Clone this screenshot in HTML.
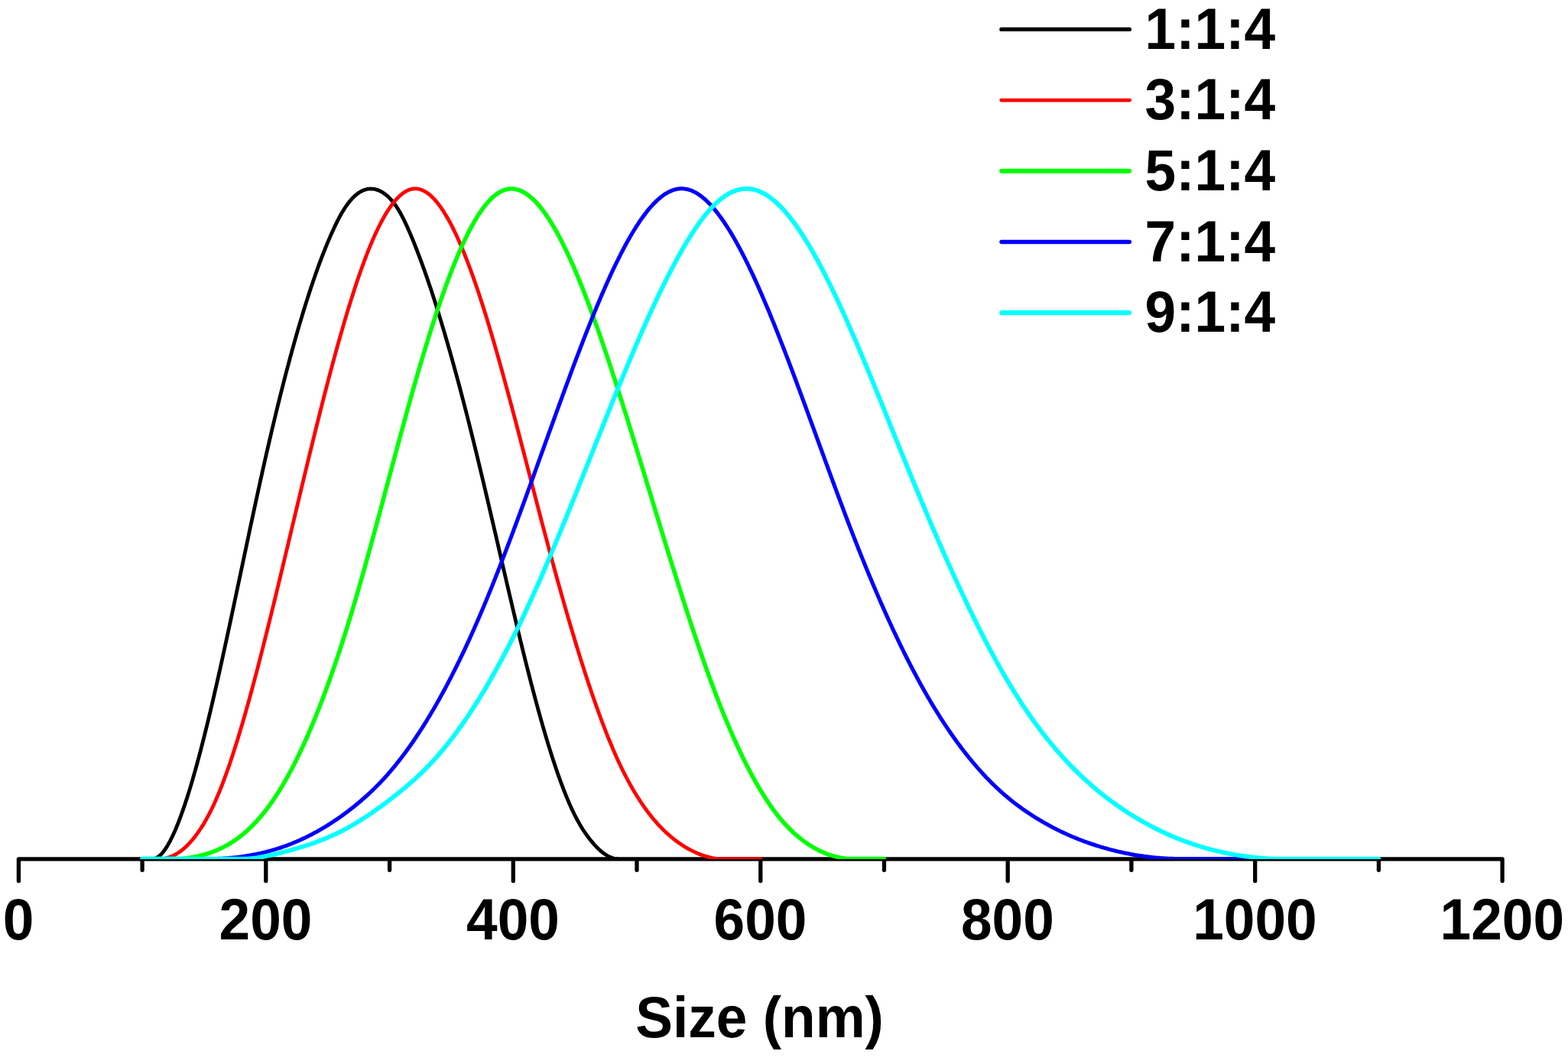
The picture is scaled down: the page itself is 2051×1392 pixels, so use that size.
<!DOCTYPE html>
<html lang="en">
<head>
<meta charset="utf-8">
<title>Size distribution</title>
<style>
html,body{margin:0;padding:0;background:#fff;}
body{width:2051px;height:1392px;overflow:hidden;}
svg{display:block;}
text{font-family:"Liberation Sans","Arial",sans-serif;font-weight:bold;font-size:76.5px;fill:#000;}
</style>
</head>
<body>
<svg width="2051" height="1392" viewBox="0 0 2051 1392">
<rect width="2051" height="1392" fill="#fff"/>
<g id="axis">
<path d="M24.4,1123.9 H1965.1 M24.4,1123.9 V1152.55 M186.1,1123.9 V1138.35 M347.8,1123.9 V1152.55 M509.6,1123.9 V1138.35 M671.3,1123.9 V1152.55 M833.0,1123.9 V1138.35 M994.8,1123.9 V1152.55 M1156.5,1123.9 V1138.35 M1318.2,1123.9 V1152.55 M1479.9,1123.9 V1138.35 M1641.7,1123.9 V1152.55 M1803.4,1123.9 V1138.35 M1965.1,1123.9 V1152.55" stroke="#000" stroke-width="5.3" stroke-linecap="round" stroke-linejoin="round" fill="none"/>
</g>
<clipPath id="plotclip"><rect x="0" y="0" width="2051" height="1124.1"/></clipPath>
<g id="curves" fill="none" stroke-linecap="round" stroke-linejoin="round" clip-path="url(#plotclip)">
<path d="M186.1,1123.6 L200.0,1123.6 L201.5,1123.4 L203.0,1123.0 L204.5,1122.4 L206.0,1121.6 L207.5,1120.5 L209.0,1119.3 L210.5,1117.9 L212.0,1116.3 L213.5,1114.5 L215.0,1112.6 L216.5,1110.4 L218.0,1108.1 L219.5,1105.7 L221.0,1103.0 L222.5,1100.3 L224.0,1097.3 L225.5,1094.2 L227.0,1091.0 L228.5,1087.7 L230.0,1084.2 L231.5,1080.5 L233.0,1076.8 L234.5,1072.9 L236.0,1068.9 L237.5,1064.8 L239.0,1060.6 L240.5,1056.3 L242.0,1051.9 L243.5,1047.3 L245.0,1042.7 L246.5,1037.9 L248.0,1033.1 L249.5,1028.1 L251.0,1023.1 L252.5,1017.9 L254.0,1012.7 L255.5,1007.4 L257.0,1002.0 L258.5,996.5 L260.0,990.9 L261.5,985.3 L263.0,979.5 L264.5,973.7 L266.0,967.8 L267.5,961.9 L269.0,955.9 L270.5,949.8 L272.0,943.6 L273.5,937.4 L275.0,931.1 L276.5,924.8 L278.0,918.4 L279.5,911.9 L281.0,905.4 L282.5,898.8 L284.0,892.2 L285.5,885.6 L287.0,878.9 L288.5,872.2 L290.0,865.4 L291.5,858.6 L293.0,851.7 L294.5,844.8 L296.0,837.9 L297.5,831.0 L299.0,824.0 L300.5,817.0 L302.0,810.0 L303.5,803.0 L305.0,795.9 L306.5,788.9 L308.0,781.8 L309.5,774.7 L311.0,767.6 L312.5,760.5 L314.0,753.4 L315.5,746.3 L317.0,739.2 L318.5,732.1 L320.0,725.0 L321.5,717.9 L323.0,710.8 L324.5,703.7 L326.0,696.6 L327.5,689.6 L329.0,682.5 L330.5,675.5 L332.0,668.5 L333.5,661.6 L335.0,654.6 L336.5,647.7 L338.0,640.8 L339.5,634.0 L341.0,627.1 L342.5,620.4 L344.0,613.6 L345.5,606.9 L347.0,600.3 L348.5,593.6 L350.0,587.1 L351.5,580.6 L353.0,574.1 L354.5,567.7 L356.0,561.3 L357.5,555.0 L359.0,548.7 L360.5,542.5 L362.0,536.3 L363.5,530.1 L365.0,524.1 L366.5,518.0 L368.0,512.1 L369.5,506.1 L371.0,500.3 L372.5,494.4 L374.0,488.7 L375.5,482.9 L377.0,477.3 L378.5,471.7 L380.0,466.1 L381.5,460.6 L383.0,455.2 L384.5,449.8 L386.0,444.4 L387.5,439.1 L389.0,433.9 L390.5,428.7 L392.0,423.6 L393.5,418.6 L395.0,413.6 L396.5,408.6 L398.0,403.7 L399.5,398.9 L401.0,394.1 L402.5,389.4 L404.0,384.8 L405.5,380.2 L407.0,375.6 L408.5,371.2 L410.0,366.8 L411.5,362.4 L413.0,358.1 L414.5,353.9 L416.0,349.7 L417.5,345.6 L419.0,341.6 L420.5,337.6 L422.0,333.7 L423.5,329.8 L425.0,326.1 L426.5,322.3 L428.0,318.7 L429.5,315.1 L431.0,311.6 L432.5,308.1 L434.0,304.7 L435.5,301.4 L437.0,298.2 L438.5,295.0 L440.0,291.9 L441.5,288.9 L443.0,286.0 L444.5,283.2 L446.0,280.5 L447.5,277.9 L449.0,275.4 L450.5,273.0 L452.0,270.7 L453.5,268.6 L455.0,266.5 L456.5,264.6 L458.0,262.7 L459.5,261.0 L461.0,259.4 L462.5,257.8 L464.0,256.4 L465.5,255.1 L467.0,253.9 L468.5,252.8 L470.0,251.7 L471.5,250.8 L473.0,250.0 L474.5,249.3 L476.0,248.7 L477.5,248.2 L479.0,247.8 L480.5,247.4 L482.0,247.2 L483.5,247.1 L485.0,247.0 L486.5,247.1 L488.0,247.2 L489.5,247.4 L491.0,247.7 L492.5,248.1 L494.0,248.6 L495.5,249.2 L497.0,249.9 L498.5,250.7 L500.0,251.5 L501.5,252.4 L503.0,253.5 L504.5,254.6 L506.0,255.8 L507.5,257.1 L509.0,258.6 L510.5,260.1 L512.0,261.8 L513.5,263.5 L515.0,265.4 L516.5,267.4 L518.0,269.5 L519.5,271.8 L521.0,274.2 L522.5,276.7 L524.0,279.3 L525.5,282.1 L527.0,285.0 L528.5,288.0 L530.0,291.1 L531.5,294.3 L533.0,297.6 L534.5,300.9 L536.0,304.4 L537.5,307.9 L539.0,311.5 L540.5,315.2 L542.0,318.9 L543.5,322.7 L545.0,326.5 L546.5,330.4 L548.0,334.3 L549.5,338.3 L551.0,342.3 L552.5,346.4 L554.0,350.6 L555.5,354.8 L557.0,359.1 L558.5,363.4 L560.0,367.7 L561.5,372.2 L563.0,376.6 L564.5,381.1 L566.0,385.7 L567.5,390.3 L569.0,395.0 L570.5,399.7 L572.0,404.5 L573.5,409.3 L575.0,414.2 L576.5,419.1 L578.0,424.1 L579.5,429.1 L581.0,434.1 L582.5,439.2 L584.0,444.4 L585.5,449.5 L587.0,454.8 L588.5,460.0 L590.0,465.4 L591.5,470.7 L593.0,476.1 L594.5,481.6 L596.0,487.0 L597.5,492.6 L599.0,498.1 L600.5,503.7 L602.0,509.4 L603.5,515.1 L605.0,520.8 L606.5,526.5 L608.0,532.3 L609.5,538.2 L611.0,544.0 L612.5,550.0 L614.0,555.9 L615.5,561.9 L617.0,567.9 L618.5,573.9 L620.0,580.0 L621.5,586.1 L623.0,592.3 L624.5,598.4 L626.0,604.7 L627.5,610.9 L629.0,617.2 L630.5,623.5 L632.0,629.8 L633.5,636.1 L635.0,642.5 L636.5,648.9 L638.0,655.3 L639.5,661.7 L641.0,668.1 L642.5,674.6 L644.0,681.0 L645.5,687.5 L647.0,694.0 L648.5,700.4 L650.0,706.9 L651.5,713.4 L653.0,719.9 L654.5,726.4 L656.0,732.9 L657.5,739.3 L659.0,745.8 L660.5,752.3 L662.0,758.7 L663.5,765.2 L665.0,771.6 L666.5,778.0 L668.0,784.4 L669.5,790.8 L671.0,797.2 L672.5,803.5 L674.0,809.8 L675.5,816.1 L677.0,822.4 L678.5,828.6 L680.0,834.8 L681.5,841.0 L683.0,847.1 L684.5,853.2 L686.0,859.3 L687.5,865.3 L689.0,871.3 L690.5,877.2 L692.0,883.1 L693.5,889.0 L695.0,894.8 L696.5,900.5 L698.0,906.2 L699.5,911.9 L701.0,917.4 L702.5,923.0 L704.0,928.5 L705.5,933.9 L707.0,939.3 L708.5,944.6 L710.0,949.8 L711.5,955.0 L713.0,960.1 L714.5,965.2 L716.0,970.2 L717.5,975.1 L719.0,979.9 L720.5,984.7 L722.0,989.4 L723.5,994.1 L725.0,998.6 L726.5,1003.1 L728.0,1007.5 L729.5,1011.9 L731.0,1016.1 L732.5,1020.3 L734.0,1024.4 L735.5,1028.4 L737.0,1032.3 L738.5,1036.2 L740.0,1039.9 L741.5,1043.6 L743.0,1047.2 L744.5,1050.7 L746.0,1054.1 L747.5,1057.4 L749.0,1060.6 L750.5,1063.7 L752.0,1066.8 L753.5,1069.7 L755.0,1072.5 L756.5,1075.2 L758.0,1077.9 L759.5,1080.4 L761.0,1082.9 L762.5,1085.3 L764.0,1087.5 L765.5,1089.8 L767.0,1091.9 L768.5,1094.0 L770.0,1096.0 L771.5,1097.9 L773.0,1099.8 L774.5,1101.6 L776.0,1103.4 L777.5,1105.1 L779.0,1106.7 L780.5,1108.3 L782.0,1109.8 L783.5,1111.2 L785.0,1112.6 L786.5,1113.9 L788.0,1115.1 L789.5,1116.3 L791.0,1117.3 L792.5,1118.3 L794.0,1119.2 L795.5,1120.1 L797.0,1120.8 L798.5,1121.5 L800.0,1122.1 L801.5,1122.6 L803.0,1123.0 L804.5,1123.3 L806.0,1123.5 L808.0,1123.6" stroke="#000000" stroke-width="4.8"/>
<path d="M186.1,1123.6 L212.0,1123.6 L213.5,1123.4 L215.0,1123.2 L216.5,1122.9 L218.0,1122.5 L219.5,1122.1 L221.0,1121.7 L222.5,1121.1 L224.0,1120.6 L225.5,1119.9 L227.0,1119.2 L228.5,1118.4 L230.0,1117.6 L231.5,1116.7 L233.0,1115.8 L234.5,1114.8 L236.0,1113.7 L237.5,1112.6 L239.0,1111.4 L240.5,1110.1 L242.0,1108.8 L243.5,1107.4 L245.0,1106.0 L246.5,1104.4 L248.0,1102.9 L249.5,1101.2 L251.0,1099.5 L252.5,1097.7 L254.0,1095.8 L255.5,1093.9 L257.0,1091.9 L258.5,1089.9 L260.0,1087.7 L261.5,1085.5 L263.0,1083.2 L264.5,1080.9 L266.0,1078.4 L267.5,1075.9 L269.0,1073.4 L270.5,1070.7 L272.0,1067.9 L273.5,1065.1 L275.0,1062.2 L276.5,1059.2 L278.0,1056.1 L279.5,1052.9 L281.0,1049.7 L282.5,1046.3 L284.0,1042.8 L285.5,1039.3 L287.0,1035.6 L288.5,1031.9 L290.0,1028.1 L291.5,1024.2 L293.0,1020.2 L294.5,1016.2 L296.0,1012.1 L297.5,1007.8 L299.0,1003.6 L300.5,999.2 L302.0,994.8 L303.5,990.3 L305.0,985.7 L306.5,981.0 L308.0,976.3 L309.5,971.5 L311.0,966.7 L312.5,961.8 L314.0,956.8 L315.5,951.8 L317.0,946.7 L318.5,941.5 L320.0,936.3 L321.5,931.1 L323.0,925.7 L324.5,920.4 L326.0,915.0 L327.5,909.5 L329.0,904.0 L330.5,898.4 L332.0,892.8 L333.5,887.2 L335.0,881.5 L336.5,875.8 L338.0,870.0 L339.5,864.2 L341.0,858.4 L342.5,852.5 L344.0,846.6 L345.5,840.6 L347.0,834.7 L348.5,828.7 L350.0,822.7 L351.5,816.6 L353.0,810.5 L354.5,804.5 L356.0,798.3 L357.5,792.2 L359.0,786.1 L360.5,779.9 L362.0,773.7 L363.5,767.5 L365.0,761.3 L366.5,755.1 L368.0,748.8 L369.5,742.6 L371.0,736.3 L372.5,730.0 L374.0,723.8 L375.5,717.5 L377.0,711.2 L378.5,704.9 L380.0,698.6 L381.5,692.3 L383.0,686.0 L384.5,679.7 L386.0,673.4 L387.5,667.1 L389.0,660.9 L390.5,654.6 L392.0,648.3 L393.5,642.0 L395.0,635.8 L396.5,629.5 L398.0,623.3 L399.5,617.1 L401.0,610.9 L402.5,604.7 L404.0,598.5 L405.5,592.3 L407.0,586.2 L408.5,580.1 L410.0,574.0 L411.5,567.9 L413.0,561.8 L414.5,555.8 L416.0,549.8 L417.5,543.8 L419.0,537.8 L420.5,531.9 L422.0,526.0 L423.5,520.1 L425.0,514.3 L426.5,508.5 L428.0,502.7 L429.5,497.0 L431.0,491.3 L432.5,485.6 L434.0,480.0 L435.5,474.4 L437.0,468.9 L438.5,463.4 L440.0,457.9 L441.5,452.5 L443.0,447.1 L444.5,441.8 L446.0,436.5 L447.5,431.3 L449.0,426.1 L450.5,421.0 L452.0,415.9 L453.5,410.9 L455.0,405.9 L456.5,401.0 L458.0,396.2 L459.5,391.4 L461.0,386.7 L462.5,382.0 L464.0,377.4 L465.5,372.8 L467.0,368.3 L468.5,363.9 L470.0,359.5 L471.5,355.3 L473.0,351.0 L474.5,346.9 L476.0,342.8 L477.5,338.8 L479.0,334.9 L480.5,331.0 L482.0,327.2 L483.5,323.5 L485.0,319.9 L486.5,316.3 L488.0,312.8 L489.5,309.4 L491.0,306.1 L492.5,302.9 L494.0,299.7 L495.5,296.7 L497.0,293.7 L498.5,290.8 L500.0,288.0 L501.5,285.3 L503.0,282.6 L504.5,280.1 L506.0,277.6 L507.5,275.3 L509.0,273.0 L510.5,270.8 L512.0,268.7 L513.5,266.7 L515.0,264.8 L516.5,263.0 L518.0,261.2 L519.5,259.6 L521.0,258.1 L522.5,256.6 L524.0,255.3 L525.5,254.0 L527.0,252.9 L528.5,251.8 L530.0,250.9 L531.5,250.0 L533.0,249.2 L534.5,248.6 L536.0,248.0 L537.5,247.6 L539.0,247.2 L540.5,247.0 L542.0,246.9 L543.5,246.8 L545.0,246.9 L546.5,247.1 L548.0,247.3 L549.5,247.7 L551.0,248.2 L552.5,248.8 L554.0,249.5 L555.5,250.3 L557.0,251.2 L558.5,252.1 L560.0,253.2 L561.5,254.4 L563.0,255.6 L564.5,257.0 L566.0,258.5 L567.5,260.0 L569.0,261.7 L570.5,263.4 L572.0,265.2 L573.5,267.1 L575.0,269.1 L576.5,271.2 L578.0,273.4 L579.5,275.6 L581.0,278.0 L582.5,280.4 L584.0,282.9 L585.5,285.5 L587.0,288.1 L588.5,290.9 L590.0,293.7 L591.5,296.6 L593.0,299.6 L594.5,302.7 L596.0,305.8 L597.5,309.0 L599.0,312.3 L600.5,315.7 L602.0,319.1 L603.5,322.6 L605.0,326.2 L606.5,329.8 L608.0,333.5 L609.5,337.3 L611.0,341.1 L612.5,345.0 L614.0,349.0 L615.5,353.1 L617.0,357.2 L618.5,361.3 L620.0,365.6 L621.5,369.8 L623.0,374.2 L624.5,378.6 L626.0,383.1 L627.5,387.6 L629.0,392.2 L630.5,396.8 L632.0,401.5 L633.5,406.3 L635.0,411.0 L636.5,415.9 L638.0,420.8 L639.5,425.7 L641.0,430.7 L642.5,435.8 L644.0,440.9 L645.5,446.0 L647.0,451.1 L648.5,456.4 L650.0,461.6 L651.5,466.9 L653.0,472.2 L654.5,477.6 L656.0,482.9 L657.5,488.4 L659.0,493.8 L660.5,499.3 L662.0,504.8 L663.5,510.3 L665.0,515.9 L666.5,521.5 L668.0,527.1 L669.5,532.7 L671.0,538.3 L672.5,544.0 L674.0,549.7 L675.5,555.4 L677.0,561.1 L678.5,566.8 L680.0,572.6 L681.5,578.3 L683.0,584.1 L684.5,589.8 L686.0,595.6 L687.5,601.4 L689.0,607.2 L690.5,613.0 L692.0,618.7 L693.5,624.5 L695.0,630.3 L696.5,636.1 L698.0,641.9 L699.5,647.6 L701.0,653.4 L702.5,659.2 L704.0,664.9 L705.5,670.6 L707.0,676.4 L708.5,682.1 L710.0,687.8 L711.5,693.4 L713.0,699.1 L714.5,704.7 L716.0,710.4 L717.5,716.0 L719.0,721.5 L720.5,727.1 L722.0,732.6 L723.5,738.1 L725.0,743.6 L726.5,749.1 L728.0,754.5 L729.5,760.0 L731.0,765.4 L732.5,770.7 L734.0,776.1 L735.5,781.4 L737.0,786.6 L738.5,791.9 L740.0,797.1 L741.5,802.3 L743.0,807.5 L744.5,812.6 L746.0,817.7 L747.5,822.8 L749.0,827.8 L750.5,832.8 L752.0,837.8 L753.5,842.8 L755.0,847.7 L756.5,852.5 L758.0,857.4 L759.5,862.2 L761.0,866.9 L762.5,871.6 L764.0,876.3 L765.5,881.0 L767.0,885.6 L768.5,890.1 L770.0,894.7 L771.5,899.1 L773.0,903.6 L774.5,908.0 L776.0,912.3 L777.5,916.6 L779.0,920.9 L780.5,925.1 L782.0,929.3 L783.5,933.5 L785.0,937.5 L786.5,941.6 L788.0,945.6 L789.5,949.5 L791.0,953.4 L792.5,957.3 L794.0,961.1 L795.5,964.8 L797.0,968.5 L798.5,972.1 L800.0,975.7 L801.5,979.3 L803.0,982.8 L804.5,986.2 L806.0,989.6 L807.5,992.9 L809.0,996.2 L810.5,999.4 L812.0,1002.6 L813.5,1005.7 L815.0,1008.7 L816.5,1011.7 L818.0,1014.6 L819.5,1017.5 L821.0,1020.3 L822.5,1023.1 L824.0,1025.8 L825.5,1028.5 L827.0,1031.2 L828.5,1033.7 L830.0,1036.3 L831.5,1038.7 L833.0,1041.2 L834.5,1043.6 L836.0,1045.9 L837.5,1048.2 L839.0,1050.5 L840.5,1052.7 L842.0,1054.8 L843.5,1057.0 L845.0,1059.0 L846.5,1061.1 L848.0,1063.1 L849.5,1065.0 L851.0,1066.9 L852.5,1068.8 L854.0,1070.7 L855.5,1072.5 L857.0,1074.2 L858.5,1075.9 L860.0,1077.6 L861.5,1079.3 L863.0,1080.9 L864.5,1082.4 L866.0,1084.0 L867.5,1085.5 L869.0,1086.9 L870.5,1088.4 L872.0,1089.8 L873.5,1091.1 L875.0,1092.4 L876.5,1093.7 L878.0,1095.0 L879.5,1096.3 L881.0,1097.5 L882.5,1098.6 L884.0,1099.8 L885.5,1100.9 L887.0,1102.0 L888.5,1103.1 L890.0,1104.1 L891.5,1105.1 L893.0,1106.1 L894.5,1107.0 L896.0,1108.0 L897.5,1108.9 L899.0,1109.8 L900.5,1110.6 L902.0,1111.4 L903.5,1112.2 L905.0,1113.0 L906.5,1113.7 L908.0,1114.4 L909.5,1115.1 L911.0,1115.8 L912.5,1116.4 L914.0,1117.1 L915.5,1117.6 L917.0,1118.2 L918.5,1118.7 L920.0,1119.3 L921.5,1119.7 L923.0,1120.2 L924.5,1120.6 L926.0,1121.1 L927.5,1121.4 L929.0,1121.8 L930.5,1122.1 L932.0,1122.5 L933.5,1122.8 L935.0,1123.0 L936.5,1123.3 L938.0,1123.5 L994.8,1123.6" stroke="#ff0000" stroke-width="4.8"/>
<path d="M186.1,1123.6 L235.0,1123.6 L236.5,1123.5 L238.0,1123.4 L239.5,1123.2 L241.0,1123.0 L242.5,1122.9 L244.0,1122.7 L245.5,1122.5 L247.0,1122.3 L248.5,1122.0 L250.0,1121.8 L251.5,1121.5 L253.0,1121.3 L254.5,1121.0 L256.0,1120.7 L257.5,1120.4 L259.0,1120.1 L260.5,1119.7 L262.0,1119.4 L263.5,1119.0 L265.0,1118.6 L266.5,1118.2 L268.0,1117.8 L269.5,1117.4 L271.0,1116.9 L272.5,1116.4 L274.0,1116.0 L275.5,1115.4 L277.0,1114.9 L278.5,1114.4 L280.0,1113.8 L281.5,1113.2 L283.0,1112.6 L284.5,1111.9 L286.0,1111.3 L287.5,1110.6 L289.0,1109.9 L290.5,1109.2 L292.0,1108.4 L293.5,1107.6 L295.0,1106.8 L296.5,1106.0 L298.0,1105.2 L299.5,1104.3 L301.0,1103.4 L302.5,1102.4 L304.0,1101.5 L305.5,1100.5 L307.0,1099.5 L308.5,1098.5 L310.0,1097.4 L311.5,1096.3 L313.0,1095.2 L314.5,1094.0 L316.0,1092.8 L317.5,1091.6 L319.0,1090.4 L320.5,1089.1 L322.0,1087.8 L323.5,1086.4 L325.0,1085.0 L326.5,1083.6 L328.0,1082.2 L329.5,1080.7 L331.0,1079.2 L332.5,1077.7 L334.0,1076.1 L335.5,1074.5 L337.0,1072.8 L338.5,1071.1 L340.0,1069.4 L341.5,1067.7 L343.0,1065.9 L344.5,1064.0 L346.0,1062.2 L347.5,1060.3 L349.0,1058.3 L350.5,1056.3 L352.0,1054.3 L353.5,1052.2 L355.0,1050.1 L356.5,1048.0 L358.0,1045.8 L359.5,1043.5 L361.0,1041.3 L362.5,1039.0 L364.0,1036.6 L365.5,1034.2 L367.0,1031.8 L368.5,1029.3 L370.0,1026.8 L371.5,1024.2 L373.0,1021.6 L374.5,1019.0 L376.0,1016.3 L377.5,1013.6 L379.0,1010.8 L380.5,1008.0 L382.0,1005.2 L383.5,1002.3 L385.0,999.4 L386.5,996.4 L388.0,993.4 L389.5,990.3 L391.0,987.2 L392.5,984.1 L394.0,980.9 L395.5,977.7 L397.0,974.5 L398.5,971.2 L400.0,967.8 L401.5,964.5 L403.0,961.1 L404.5,957.6 L406.0,954.1 L407.5,950.6 L409.0,947.0 L410.5,943.4 L412.0,939.7 L413.5,936.0 L415.0,932.3 L416.5,928.5 L418.0,924.7 L419.5,920.8 L421.0,916.9 L422.5,913.0 L424.0,909.0 L425.5,905.0 L427.0,900.9 L428.5,896.8 L430.0,892.6 L431.5,888.5 L433.0,884.2 L434.5,880.0 L436.0,875.7 L437.5,871.3 L439.0,866.9 L440.5,862.5 L442.0,858.0 L443.5,853.5 L445.0,849.0 L446.5,844.4 L448.0,839.7 L449.5,835.1 L451.0,830.4 L452.5,825.6 L454.0,820.8 L455.5,816.0 L457.0,811.1 L458.5,806.2 L460.0,801.3 L461.5,796.3 L463.0,791.2 L464.5,786.2 L466.0,781.0 L467.5,775.9 L469.0,770.7 L470.5,765.5 L472.0,760.3 L473.5,755.0 L475.0,749.7 L476.5,744.4 L478.0,739.0 L479.5,733.6 L481.0,728.2 L482.5,722.8 L484.0,717.4 L485.5,711.9 L487.0,706.4 L488.5,700.9 L490.0,695.4 L491.5,689.9 L493.0,684.3 L494.5,678.8 L496.0,673.2 L497.5,667.6 L499.0,662.0 L500.5,656.5 L502.0,650.9 L503.5,645.3 L505.0,639.7 L506.5,634.0 L508.0,628.4 L509.5,622.8 L511.0,617.2 L512.5,611.6 L514.0,606.0 L515.5,600.4 L517.0,594.9 L518.5,589.3 L520.0,583.7 L521.5,578.2 L523.0,572.6 L524.5,567.1 L526.0,561.6 L527.5,556.1 L529.0,550.6 L530.5,545.2 L532.0,539.7 L533.5,534.3 L535.0,528.9 L536.5,523.6 L538.0,518.2 L539.5,512.9 L541.0,507.6 L542.5,502.4 L544.0,497.1 L545.5,491.9 L547.0,486.8 L548.5,481.6 L550.0,476.5 L551.5,471.5 L553.0,466.5 L554.5,461.5 L556.0,456.5 L557.5,451.6 L559.0,446.7 L560.5,441.9 L562.0,437.1 L563.5,432.3 L565.0,427.6 L566.5,422.9 L568.0,418.3 L569.5,413.7 L571.0,409.2 L572.5,404.7 L574.0,400.3 L575.5,395.9 L577.0,391.5 L578.5,387.2 L580.0,383.0 L581.5,378.8 L583.0,374.6 L584.5,370.5 L586.0,366.5 L587.5,362.5 L589.0,358.5 L590.5,354.7 L592.0,350.8 L593.5,347.1 L595.0,343.4 L596.5,339.7 L598.0,336.1 L599.5,332.6 L601.0,329.1 L602.5,325.7 L604.0,322.3 L605.5,319.1 L607.0,315.8 L608.5,312.7 L610.0,309.6 L611.5,306.6 L613.0,303.6 L614.5,300.7 L616.0,297.9 L617.5,295.1 L619.0,292.5 L620.5,289.8 L622.0,287.3 L623.5,284.8 L625.0,282.4 L626.5,280.1 L628.0,277.9 L629.5,275.7 L631.0,273.6 L632.5,271.5 L634.0,269.6 L635.5,267.7 L637.0,265.9 L638.5,264.2 L640.0,262.6 L641.5,261.0 L643.0,259.5 L644.5,258.1 L646.0,256.8 L647.5,255.6 L649.0,254.4 L650.5,253.3 L652.0,252.3 L653.5,251.4 L655.0,250.6 L656.5,249.9 L658.0,249.2 L659.5,248.6 L661.0,248.2 L662.5,247.8 L664.0,247.5 L665.5,247.2 L667.0,247.1 L668.5,247.0 L670.0,247.0 L671.5,247.1 L673.0,247.3 L674.5,247.6 L676.0,247.9 L677.5,248.3 L679.0,248.8 L680.5,249.4 L682.0,250.0 L683.5,250.7 L685.0,251.5 L686.5,252.4 L688.0,253.3 L689.5,254.3 L691.0,255.4 L692.5,256.6 L694.0,257.8 L695.5,259.1 L697.0,260.5 L698.5,261.9 L700.0,263.4 L701.5,265.0 L703.0,266.6 L704.5,268.3 L706.0,270.1 L707.5,271.9 L709.0,273.8 L710.5,275.8 L712.0,277.8 L713.5,279.9 L715.0,282.1 L716.5,284.3 L718.0,286.6 L719.5,288.9 L721.0,291.3 L722.5,293.8 L724.0,296.3 L725.5,298.8 L727.0,301.5 L728.5,304.1 L730.0,306.9 L731.5,309.7 L733.0,312.5 L734.5,315.4 L736.0,318.4 L737.5,321.4 L739.0,324.5 L740.5,327.6 L742.0,330.7 L743.5,333.9 L745.0,337.2 L746.5,340.5 L748.0,343.8 L749.5,347.2 L751.0,350.7 L752.5,354.2 L754.0,357.7 L755.5,361.3 L757.0,364.9 L758.5,368.6 L760.0,372.3 L761.5,376.0 L763.0,379.8 L764.5,383.6 L766.0,387.5 L767.5,391.4 L769.0,395.3 L770.5,399.3 L772.0,403.3 L773.5,407.4 L775.0,411.5 L776.5,415.6 L778.0,419.7 L779.5,423.9 L781.0,428.1 L782.5,432.4 L784.0,436.6 L785.5,441.0 L787.0,445.3 L788.5,449.7 L790.0,454.0 L791.5,458.5 L793.0,462.9 L794.5,467.4 L796.0,471.9 L797.5,476.4 L799.0,480.9 L800.5,485.5 L802.0,490.1 L803.5,494.7 L805.0,499.3 L806.5,503.9 L808.0,508.6 L809.5,513.3 L811.0,518.0 L812.5,522.7 L814.0,527.4 L815.5,532.2 L817.0,537.0 L818.5,541.7 L820.0,546.5 L821.5,551.3 L823.0,556.2 L824.5,561.0 L826.0,565.8 L827.5,570.7 L829.0,575.5 L830.5,580.4 L832.0,585.3 L833.5,590.1 L835.0,595.0 L836.5,599.9 L838.0,604.8 L839.5,609.7 L841.0,614.6 L842.5,619.5 L844.0,624.5 L845.5,629.4 L847.0,634.3 L848.5,639.2 L850.0,644.1 L851.5,649.0 L853.0,654.0 L854.5,658.9 L856.0,663.8 L857.5,668.7 L859.0,673.6 L860.5,678.5 L862.0,683.4 L863.5,688.3 L865.0,693.2 L866.5,698.1 L868.0,703.0 L869.5,707.8 L871.0,712.7 L872.5,717.5 L874.0,722.4 L875.5,727.2 L877.0,732.0 L878.5,736.9 L880.0,741.7 L881.5,746.5 L883.0,751.2 L884.5,756.0 L886.0,760.8 L887.5,765.5 L889.0,770.2 L890.5,775.0 L892.0,779.7 L893.5,784.3 L895.0,789.0 L896.5,793.6 L898.0,798.3 L899.5,802.9 L901.0,807.5 L902.5,812.1 L904.0,816.6 L905.5,821.1 L907.0,825.6 L908.5,830.1 L910.0,834.6 L911.5,839.0 L913.0,843.4 L914.5,847.8 L916.0,852.2 L917.5,856.5 L919.0,860.8 L920.5,865.1 L922.0,869.4 L923.5,873.6 L925.0,877.8 L926.5,882.0 L928.0,886.1 L929.5,890.2 L931.0,894.3 L932.5,898.3 L934.0,902.3 L935.5,906.2 L937.0,910.2 L938.5,914.1 L940.0,917.9 L941.5,921.7 L943.0,925.5 L944.5,929.3 L946.0,933.0 L947.5,936.7 L949.0,940.3 L950.5,943.9 L952.0,947.5 L953.5,951.0 L955.0,954.5 L956.5,958.0 L958.0,961.4 L959.5,964.8 L961.0,968.2 L962.5,971.5 L964.0,974.8 L965.5,978.0 L967.0,981.3 L968.5,984.4 L970.0,987.6 L971.5,990.7 L973.0,993.7 L974.5,996.7 L976.0,999.7 L977.5,1002.7 L979.0,1005.6 L980.5,1008.5 L982.0,1011.3 L983.5,1014.1 L985.0,1016.8 L986.5,1019.6 L988.0,1022.3 L989.5,1024.9 L991.0,1027.5 L992.5,1030.1 L994.0,1032.6 L995.5,1035.1 L997.0,1037.5 L998.5,1039.9 L1000.0,1042.3 L1001.5,1044.7 L1003.0,1046.9 L1004.5,1049.2 L1006.0,1051.4 L1007.5,1053.6 L1009.0,1055.7 L1010.5,1057.8 L1012.0,1059.9 L1013.5,1061.9 L1015.0,1063.9 L1016.5,1065.8 L1018.0,1067.7 L1019.5,1069.6 L1021.0,1071.4 L1022.5,1073.2 L1024.0,1074.9 L1025.5,1076.6 L1027.0,1078.3 L1028.5,1079.9 L1030.0,1081.5 L1031.5,1083.0 L1033.0,1084.5 L1034.5,1086.0 L1036.0,1087.5 L1037.5,1088.9 L1039.0,1090.3 L1040.5,1091.6 L1042.0,1092.9 L1043.5,1094.2 L1045.0,1095.5 L1046.5,1096.7 L1048.0,1097.9 L1049.5,1099.0 L1051.0,1100.1 L1052.5,1101.2 L1054.0,1102.3 L1055.5,1103.4 L1057.0,1104.4 L1058.5,1105.3 L1060.0,1106.3 L1061.5,1107.2 L1063.0,1108.1 L1064.5,1109.0 L1066.0,1109.8 L1067.5,1110.6 L1069.0,1111.4 L1070.5,1112.2 L1072.0,1112.9 L1073.5,1113.7 L1075.0,1114.3 L1076.5,1115.0 L1078.0,1115.7 L1079.5,1116.3 L1081.0,1116.9 L1082.5,1117.4 L1084.0,1118.0 L1085.5,1118.5 L1087.0,1119.0 L1088.5,1119.5 L1090.0,1119.9 L1091.5,1120.3 L1093.0,1120.7 L1094.5,1121.1 L1096.0,1121.4 L1097.5,1121.8 L1099.0,1122.1 L1100.5,1122.4 L1102.0,1122.6 L1103.5,1122.9 L1105.0,1123.1 L1106.5,1123.3 L1108.0,1123.4 L1109.5,1123.6 L1156.5,1123.6" stroke="#00ff00" stroke-width="5.5"/>
<path d="M186.1,1123.6 L280.0,1123.6 L281.5,1123.6 L283.0,1123.5 L284.5,1123.5 L286.0,1123.4 L287.5,1123.3 L289.0,1123.3 L290.5,1123.2 L292.0,1123.1 L293.5,1123.0 L295.0,1122.9 L296.5,1122.8 L298.0,1122.7 L299.5,1122.6 L301.0,1122.4 L302.5,1122.3 L304.0,1122.2 L305.5,1122.0 L307.0,1121.8 L308.5,1121.7 L310.0,1121.5 L311.5,1121.3 L313.0,1121.2 L314.5,1121.0 L316.0,1120.8 L317.5,1120.5 L319.0,1120.3 L320.5,1120.1 L322.0,1119.9 L323.5,1119.6 L325.0,1119.4 L326.5,1119.1 L328.0,1118.9 L329.5,1118.6 L331.0,1118.3 L332.5,1118.0 L334.0,1117.7 L335.5,1117.4 L337.0,1117.1 L338.5,1116.8 L340.0,1116.5 L341.5,1116.1 L343.0,1115.8 L344.5,1115.4 L346.0,1115.0 L347.5,1114.7 L349.0,1114.3 L350.5,1113.9 L352.0,1113.5 L353.5,1113.1 L355.0,1112.7 L356.5,1112.2 L358.0,1111.8 L359.5,1111.3 L361.0,1110.9 L362.5,1110.4 L364.0,1109.9 L365.5,1109.5 L367.0,1109.0 L368.5,1108.5 L370.0,1107.9 L371.5,1107.4 L373.0,1106.9 L374.5,1106.3 L376.0,1105.8 L377.5,1105.2 L379.0,1104.6 L380.5,1104.1 L382.0,1103.5 L383.5,1102.8 L385.0,1102.2 L386.5,1101.6 L388.0,1101.0 L389.5,1100.3 L391.0,1099.7 L392.5,1099.0 L394.0,1098.3 L395.5,1097.6 L397.0,1096.9 L398.5,1096.2 L400.0,1095.5 L401.5,1094.8 L403.0,1094.0 L404.5,1093.3 L406.0,1092.5 L407.5,1091.7 L409.0,1090.9 L410.5,1090.1 L412.0,1089.3 L413.5,1088.5 L415.0,1087.7 L416.5,1086.8 L418.0,1086.0 L419.5,1085.1 L421.0,1084.3 L422.5,1083.4 L424.0,1082.5 L425.5,1081.6 L427.0,1080.7 L428.5,1079.7 L430.0,1078.8 L431.5,1077.8 L433.0,1076.9 L434.5,1075.9 L436.0,1074.9 L437.5,1073.9 L439.0,1072.9 L440.5,1071.9 L442.0,1070.9 L443.5,1069.8 L445.0,1068.8 L446.5,1067.7 L448.0,1066.6 L449.5,1065.5 L451.0,1064.4 L452.5,1063.3 L454.0,1062.2 L455.5,1061.1 L457.0,1059.9 L458.5,1058.8 L460.0,1057.6 L461.5,1056.4 L463.0,1055.2 L464.5,1054.0 L466.0,1052.8 L467.5,1051.5 L469.0,1050.3 L470.5,1049.0 L472.0,1047.7 L473.5,1046.4 L475.0,1045.1 L476.5,1043.8 L478.0,1042.5 L479.5,1041.2 L481.0,1039.8 L482.5,1038.4 L484.0,1037.0 L485.5,1035.6 L487.0,1034.2 L488.5,1032.8 L490.0,1031.3 L491.5,1029.8 L493.0,1028.3 L494.5,1026.8 L496.0,1025.3 L497.5,1023.7 L499.0,1022.1 L500.5,1020.5 L502.0,1018.9 L503.5,1017.2 L505.0,1015.6 L506.5,1013.9 L508.0,1012.2 L509.5,1010.4 L511.0,1008.7 L512.5,1006.9 L514.0,1005.1 L515.5,1003.3 L517.0,1001.5 L518.5,999.6 L520.0,997.7 L521.5,995.8 L523.0,993.9 L524.5,992.0 L526.0,990.0 L527.5,988.0 L529.0,986.0 L530.5,984.0 L532.0,981.9 L533.5,979.9 L535.0,977.8 L536.5,975.7 L538.0,973.5 L539.5,971.4 L541.0,969.2 L542.5,967.0 L544.0,964.8 L545.5,962.5 L547.0,960.2 L548.5,958.0 L550.0,955.6 L551.5,953.3 L553.0,951.0 L554.5,948.6 L556.0,946.2 L557.5,943.8 L559.0,941.3 L560.5,938.8 L562.0,936.4 L563.5,933.8 L565.0,931.3 L566.5,928.8 L568.0,926.2 L569.5,923.6 L571.0,921.0 L572.5,918.3 L574.0,915.7 L575.5,913.0 L577.0,910.3 L578.5,907.5 L580.0,904.8 L581.5,902.0 L583.0,899.2 L584.5,896.4 L586.0,893.5 L587.5,890.6 L589.0,887.8 L590.5,884.8 L592.0,881.9 L593.5,878.9 L595.0,876.0 L596.5,873.0 L598.0,869.9 L599.5,866.9 L601.0,863.8 L602.5,860.7 L604.0,857.6 L605.5,854.4 L607.0,851.3 L608.5,848.1 L610.0,844.9 L611.5,841.6 L613.0,838.4 L614.5,835.1 L616.0,831.8 L617.5,828.5 L619.0,825.1 L620.5,821.7 L622.0,818.3 L623.5,814.9 L625.0,811.5 L626.5,808.0 L628.0,804.5 L629.5,801.0 L631.0,797.5 L632.5,793.9 L634.0,790.3 L635.5,786.7 L637.0,783.1 L638.5,779.4 L640.0,775.8 L641.5,772.1 L643.0,768.4 L644.5,764.6 L646.0,760.9 L647.5,757.1 L649.0,753.3 L650.5,749.5 L652.0,745.7 L653.5,741.8 L655.0,738.0 L656.5,734.1 L658.0,730.2 L659.5,726.3 L661.0,722.4 L662.5,718.4 L664.0,714.5 L665.5,710.5 L667.0,706.6 L668.5,702.6 L670.0,698.6 L671.5,694.6 L673.0,690.5 L674.5,686.5 L676.0,682.5 L677.5,678.4 L679.0,674.3 L680.5,670.3 L682.0,666.2 L683.5,662.1 L685.0,658.0 L686.5,653.9 L688.0,649.8 L689.5,645.7 L691.0,641.5 L692.5,637.4 L694.0,633.3 L695.5,629.1 L697.0,625.0 L698.5,620.8 L700.0,616.7 L701.5,612.5 L703.0,608.4 L704.5,604.2 L706.0,600.0 L707.5,595.9 L709.0,591.7 L710.5,587.6 L712.0,583.4 L713.5,579.2 L715.0,575.1 L716.5,570.9 L718.0,566.7 L719.5,562.6 L721.0,558.4 L722.5,554.3 L724.0,550.1 L725.5,546.0 L727.0,541.9 L728.5,537.7 L730.0,533.6 L731.5,529.5 L733.0,525.4 L734.5,521.3 L736.0,517.2 L737.5,513.1 L739.0,509.0 L740.5,504.9 L742.0,500.9 L743.5,496.8 L745.0,492.8 L746.5,488.7 L748.0,484.7 L749.5,480.7 L751.0,476.7 L752.5,472.7 L754.0,468.7 L755.5,464.8 L757.0,460.8 L758.5,456.9 L760.0,453.0 L761.5,449.1 L763.0,445.2 L764.5,441.4 L766.0,437.5 L767.5,433.7 L769.0,429.9 L770.5,426.1 L772.0,422.4 L773.5,418.7 L775.0,414.9 L776.5,411.3 L778.0,407.6 L779.5,404.0 L781.0,400.3 L782.5,396.7 L784.0,393.2 L785.5,389.7 L787.0,386.1 L788.5,382.7 L790.0,379.2 L791.5,375.8 L793.0,372.4 L794.5,369.0 L796.0,365.7 L797.5,362.4 L799.0,359.2 L800.5,355.9 L802.0,352.7 L803.5,349.6 L805.0,346.4 L806.5,343.4 L808.0,340.3 L809.5,337.3 L811.0,334.3 L812.5,331.4 L814.0,328.5 L815.5,325.6 L817.0,322.8 L818.5,320.0 L820.0,317.3 L821.5,314.6 L823.0,311.9 L824.5,309.3 L826.0,306.7 L827.5,304.2 L829.0,301.7 L830.5,299.3 L832.0,296.9 L833.5,294.6 L835.0,292.3 L836.5,290.0 L838.0,287.8 L839.5,285.7 L841.0,283.6 L842.5,281.6 L844.0,279.6 L845.5,277.6 L847.0,275.7 L848.5,273.9 L850.0,272.1 L851.5,270.4 L853.0,268.7 L854.5,267.1 L856.0,265.6 L857.5,264.1 L859.0,262.6 L860.5,261.2 L862.0,259.9 L863.5,258.7 L865.0,257.5 L866.5,256.3 L868.0,255.2 L869.5,254.2 L871.0,253.2 L872.5,252.4 L874.0,251.5 L875.5,250.8 L877.0,250.1 L878.5,249.4 L880.0,248.9 L881.5,248.3 L883.0,247.9 L884.5,247.6 L886.0,247.3 L887.5,247.0 L889.0,246.9 L890.5,246.8 L892.0,246.8 L893.5,246.8 L895.0,247.0 L896.5,247.2 L898.0,247.4 L899.5,247.8 L901.0,248.2 L902.5,248.7 L904.0,249.2 L905.5,249.8 L907.0,250.5 L908.5,251.2 L910.0,252.0 L911.5,252.9 L913.0,253.8 L914.5,254.8 L916.0,255.9 L917.5,257.0 L919.0,258.2 L920.5,259.4 L922.0,260.7 L923.5,262.1 L925.0,263.5 L926.5,265.0 L928.0,266.5 L929.5,268.1 L931.0,269.7 L932.5,271.4 L934.0,273.2 L935.5,275.0 L937.0,276.8 L938.5,278.7 L940.0,280.7 L941.5,282.7 L943.0,284.8 L944.5,286.9 L946.0,289.0 L947.5,291.2 L949.0,293.5 L950.5,295.8 L952.0,298.1 L953.5,300.5 L955.0,302.9 L956.5,305.4 L958.0,307.9 L959.5,310.5 L961.0,313.1 L962.5,315.8 L964.0,318.5 L965.5,321.2 L967.0,324.0 L968.5,326.8 L970.0,329.6 L971.5,332.5 L973.0,335.4 L974.5,338.4 L976.0,341.4 L977.5,344.4 L979.0,347.5 L980.5,350.6 L982.0,353.8 L983.5,356.9 L985.0,360.1 L986.5,363.4 L988.0,366.6 L989.5,369.9 L991.0,373.3 L992.5,376.6 L994.0,380.0 L995.5,383.5 L997.0,386.9 L998.5,390.4 L1000.0,393.9 L1001.5,397.4 L1003.0,401.0 L1004.5,404.5 L1006.0,408.1 L1007.5,411.8 L1009.0,415.4 L1010.5,419.1 L1012.0,422.8 L1013.5,426.5 L1015.0,430.3 L1016.5,434.0 L1018.0,437.8 L1019.5,441.6 L1021.0,445.4 L1022.5,449.3 L1024.0,453.1 L1025.5,457.0 L1027.0,460.9 L1028.5,464.8 L1030.0,468.7 L1031.5,472.6 L1033.0,476.6 L1034.5,480.5 L1036.0,484.5 L1037.5,488.5 L1039.0,492.5 L1040.5,496.5 L1042.0,500.5 L1043.5,504.6 L1045.0,508.6 L1046.5,512.6 L1048.0,516.7 L1049.5,520.8 L1051.0,524.8 L1052.5,528.9 L1054.0,533.0 L1055.5,537.1 L1057.0,541.2 L1058.5,545.3 L1060.0,549.4 L1061.5,553.5 L1063.0,557.6 L1064.5,561.7 L1066.0,565.8 L1067.5,569.9 L1069.0,574.1 L1070.5,578.2 L1072.0,582.3 L1073.5,586.4 L1075.0,590.5 L1076.5,594.6 L1078.0,598.7 L1079.5,602.8 L1081.0,606.9 L1082.5,611.0 L1084.0,615.1 L1085.5,619.2 L1087.0,623.3 L1088.5,627.4 L1090.0,631.5 L1091.5,635.5 L1093.0,639.6 L1094.5,643.6 L1096.0,647.6 L1097.5,651.7 L1099.0,655.7 L1100.5,659.7 L1102.0,663.7 L1103.5,667.7 L1105.0,671.6 L1106.5,675.6 L1108.0,679.5 L1109.5,683.5 L1111.0,687.4 L1112.5,691.3 L1114.0,695.2 L1115.5,699.1 L1117.0,702.9 L1118.5,706.7 L1120.0,710.6 L1121.5,714.4 L1123.0,718.2 L1124.5,721.9 L1126.0,725.7 L1127.5,729.4 L1129.0,733.1 L1130.5,736.8 L1132.0,740.5 L1133.5,744.2 L1135.0,747.8 L1136.5,751.4 L1138.0,755.0 L1139.5,758.6 L1141.0,762.2 L1142.5,765.8 L1144.0,769.3 L1145.5,772.8 L1147.0,776.3 L1148.5,779.8 L1150.0,783.2 L1151.5,786.7 L1153.0,790.1 L1154.5,793.5 L1156.0,796.9 L1157.5,800.3 L1159.0,803.6 L1160.5,806.9 L1162.0,810.3 L1163.5,813.5 L1165.0,816.8 L1166.5,820.1 L1168.0,823.3 L1169.5,826.5 L1171.0,829.7 L1172.5,832.9 L1174.0,836.0 L1175.5,839.2 L1177.0,842.3 L1178.5,845.4 L1180.0,848.4 L1181.5,851.5 L1183.0,854.5 L1184.5,857.5 L1186.0,860.5 L1187.5,863.5 L1189.0,866.4 L1190.5,869.3 L1192.0,872.3 L1193.5,875.1 L1195.0,878.0 L1196.5,880.8 L1198.0,883.7 L1199.5,886.5 L1201.0,889.2 L1202.5,892.0 L1204.0,894.7 L1205.5,897.4 L1207.0,900.1 L1208.5,902.8 L1210.0,905.4 L1211.5,908.1 L1213.0,910.7 L1214.5,913.3 L1216.0,915.8 L1217.5,918.4 L1219.0,920.9 L1220.5,923.4 L1222.0,925.8 L1223.5,928.3 L1225.0,930.7 L1226.5,933.1 L1228.0,935.5 L1229.5,937.9 L1231.0,940.3 L1232.5,942.6 L1234.0,944.9 L1235.5,947.2 L1237.0,949.4 L1238.5,951.7 L1240.0,953.9 L1241.5,956.1 L1243.0,958.3 L1244.5,960.5 L1246.0,962.6 L1247.5,964.7 L1249.0,966.8 L1250.5,968.9 L1252.0,971.0 L1253.5,973.0 L1255.0,975.1 L1256.5,977.1 L1258.0,979.1 L1259.5,981.0 L1261.0,983.0 L1262.5,984.9 L1264.0,986.8 L1265.5,988.7 L1267.0,990.6 L1268.5,992.4 L1270.0,994.2 L1271.5,996.1 L1273.0,997.9 L1274.5,999.6 L1276.0,1001.4 L1277.5,1003.1 L1279.0,1004.9 L1280.5,1006.6 L1282.0,1008.2 L1283.5,1009.9 L1285.0,1011.5 L1286.5,1013.2 L1288.0,1014.8 L1289.5,1016.4 L1291.0,1018.0 L1292.5,1019.5 L1294.0,1021.0 L1295.5,1022.6 L1297.0,1024.1 L1298.5,1025.6 L1300.0,1027.0 L1301.5,1028.5 L1303.0,1029.9 L1304.5,1031.3 L1306.0,1032.7 L1307.5,1034.1 L1309.0,1035.5 L1310.5,1036.8 L1312.0,1038.2 L1313.5,1039.5 L1315.0,1040.8 L1316.5,1042.0 L1318.0,1043.3 L1319.5,1044.6 L1321.0,1045.8 L1322.5,1047.0 L1324.0,1048.2 L1325.5,1049.4 L1327.0,1050.5 L1328.5,1051.7 L1330.0,1052.8 L1331.5,1053.9 L1333.0,1055.0 L1334.5,1056.1 L1336.0,1057.2 L1337.5,1058.3 L1339.0,1059.3 L1340.5,1060.4 L1342.0,1061.4 L1343.5,1062.4 L1345.0,1063.4 L1346.5,1064.4 L1348.0,1065.4 L1349.5,1066.4 L1351.0,1067.4 L1352.5,1068.3 L1354.0,1069.3 L1355.5,1070.2 L1357.0,1071.1 L1358.5,1072.0 L1360.0,1072.9 L1361.5,1073.8 L1363.0,1074.7 L1364.5,1075.6 L1366.0,1076.4 L1367.5,1077.3 L1369.0,1078.1 L1370.5,1079.0 L1372.0,1079.8 L1373.5,1080.6 L1375.0,1081.4 L1376.5,1082.2 L1378.0,1083.0 L1379.5,1083.8 L1381.0,1084.5 L1382.5,1085.3 L1384.0,1086.0 L1385.5,1086.8 L1387.0,1087.5 L1388.5,1088.2 L1390.0,1088.9 L1391.5,1089.6 L1393.0,1090.3 L1394.5,1091.0 L1396.0,1091.7 L1397.5,1092.4 L1399.0,1093.0 L1400.5,1093.7 L1402.0,1094.3 L1403.5,1095.0 L1405.0,1095.6 L1406.5,1096.2 L1408.0,1096.8 L1409.5,1097.4 L1411.0,1098.0 L1412.5,1098.6 L1414.0,1099.2 L1415.5,1099.7 L1417.0,1100.3 L1418.5,1100.9 L1420.0,1101.4 L1421.5,1101.9 L1423.0,1102.5 L1424.5,1103.0 L1426.0,1103.5 L1427.5,1104.0 L1429.0,1104.5 L1430.5,1105.0 L1432.0,1105.5 L1433.5,1106.0 L1435.0,1106.5 L1436.5,1106.9 L1438.0,1107.4 L1439.5,1107.9 L1441.0,1108.3 L1442.5,1108.7 L1444.0,1109.2 L1445.5,1109.6 L1447.0,1110.0 L1448.5,1110.4 L1450.0,1110.9 L1451.5,1111.3 L1453.0,1111.7 L1454.5,1112.0 L1456.0,1112.4 L1457.5,1112.8 L1459.0,1113.2 L1460.5,1113.5 L1462.0,1113.9 L1463.5,1114.2 L1465.0,1114.6 L1466.5,1114.9 L1468.0,1115.3 L1469.5,1115.6 L1471.0,1115.9 L1472.5,1116.2 L1474.0,1116.5 L1475.5,1116.8 L1477.0,1117.1 L1478.5,1117.4 L1480.0,1117.7 L1481.5,1117.9 L1483.0,1118.2 L1484.5,1118.5 L1486.0,1118.7 L1487.5,1119.0 L1489.0,1119.2 L1490.5,1119.4 L1492.0,1119.7 L1493.5,1119.9 L1495.0,1120.1 L1496.5,1120.3 L1498.0,1120.5 L1499.5,1120.7 L1501.0,1120.9 L1502.5,1121.1 L1504.0,1121.3 L1505.5,1121.4 L1507.0,1121.6 L1508.5,1121.7 L1510.0,1121.9 L1511.5,1122.0 L1513.0,1122.2 L1514.5,1122.3 L1516.0,1122.4 L1517.5,1122.5 L1519.0,1122.7 L1520.5,1122.8 L1522.0,1122.9 L1523.5,1123.0 L1525.0,1123.0 L1526.5,1123.1 L1528.0,1123.2 L1529.5,1123.3 L1531.0,1123.3 L1532.5,1123.4 L1534.0,1123.4 L1535.5,1123.5 L1537.0,1123.5 L1538.5,1123.5 L1540.0,1123.6 L1541.5,1123.6 L1543.0,1123.6 L1544.5,1123.6 L1641.7,1123.6" stroke="#0000ff" stroke-width="5.1"/>
<path d="M186.1,1123.6 L323.0,1123.6 L324.5,1123.5 L326.0,1123.4 L327.5,1123.2 L329.0,1123.0 L330.5,1122.9 L332.0,1122.7 L333.5,1122.5 L335.0,1122.3 L336.5,1122.1 L338.0,1121.8 L339.5,1121.6 L341.0,1121.3 L342.5,1121.1 L344.0,1120.8 L345.5,1120.5 L347.0,1120.3 L348.5,1120.0 L350.0,1119.7 L351.5,1119.4 L353.0,1119.0 L354.5,1118.7 L356.0,1118.4 L357.5,1118.1 L359.0,1117.7 L360.5,1117.4 L362.0,1117.0 L363.5,1116.6 L365.0,1116.3 L366.5,1115.9 L368.0,1115.5 L369.5,1115.1 L371.0,1114.7 L372.5,1114.3 L374.0,1113.9 L375.5,1113.5 L377.0,1113.1 L378.5,1112.7 L380.0,1112.3 L381.5,1111.9 L383.0,1111.4 L384.5,1111.0 L386.0,1110.6 L387.5,1110.1 L389.0,1109.7 L390.5,1109.2 L392.0,1108.8 L393.5,1108.3 L395.0,1107.9 L396.5,1107.4 L398.0,1106.9 L399.5,1106.5 L401.0,1106.0 L402.5,1105.5 L404.0,1105.0 L405.5,1104.5 L407.0,1104.0 L408.5,1103.4 L410.0,1102.9 L411.5,1102.4 L413.0,1101.9 L414.5,1101.3 L416.0,1100.7 L417.5,1100.2 L419.0,1099.6 L420.5,1099.0 L422.0,1098.4 L423.5,1097.8 L425.0,1097.2 L426.5,1096.6 L428.0,1096.0 L429.5,1095.3 L431.0,1094.7 L432.5,1094.0 L434.0,1093.4 L435.5,1092.7 L437.0,1092.0 L438.5,1091.3 L440.0,1090.6 L441.5,1089.9 L443.0,1089.1 L444.5,1088.4 L446.0,1087.6 L447.5,1086.9 L449.0,1086.1 L450.5,1085.3 L452.0,1084.5 L453.5,1083.7 L455.0,1082.9 L456.5,1082.0 L458.0,1081.2 L459.5,1080.3 L461.0,1079.5 L462.5,1078.6 L464.0,1077.7 L465.5,1076.8 L467.0,1075.9 L468.5,1075.0 L470.0,1074.1 L471.5,1073.1 L473.0,1072.2 L474.5,1071.2 L476.0,1070.3 L477.5,1069.3 L479.0,1068.3 L480.5,1067.3 L482.0,1066.3 L483.5,1065.3 L485.0,1064.3 L486.5,1063.3 L488.0,1062.3 L489.5,1061.2 L491.0,1060.2 L492.5,1059.1 L494.0,1058.0 L495.5,1057.0 L497.0,1055.9 L498.5,1054.8 L500.0,1053.7 L501.5,1052.6 L503.0,1051.5 L504.5,1050.4 L506.0,1049.2 L507.5,1048.1 L509.0,1046.9 L510.5,1045.8 L512.0,1044.6 L513.5,1043.5 L515.0,1042.3 L516.5,1041.1 L518.0,1039.9 L519.5,1038.7 L521.0,1037.5 L522.5,1036.3 L524.0,1035.1 L525.5,1033.9 L527.0,1032.7 L528.5,1031.4 L530.0,1030.2 L531.5,1028.9 L533.0,1027.6 L534.5,1026.4 L536.0,1025.1 L537.5,1023.7 L539.0,1022.4 L540.5,1021.1 L542.0,1019.8 L543.5,1018.4 L545.0,1017.0 L546.5,1015.6 L548.0,1014.2 L549.5,1012.8 L551.0,1011.4 L552.5,1009.9 L554.0,1008.5 L555.5,1007.0 L557.0,1005.5 L558.5,1003.9 L560.0,1002.4 L561.5,1000.8 L563.0,999.3 L564.5,997.7 L566.0,996.0 L567.5,994.4 L569.0,992.8 L570.5,991.1 L572.0,989.4 L573.5,987.7 L575.0,985.9 L576.5,984.2 L578.0,982.4 L579.5,980.6 L581.0,978.8 L582.5,976.9 L584.0,975.1 L585.5,973.2 L587.0,971.3 L588.5,969.4 L590.0,967.5 L591.5,965.5 L593.0,963.6 L594.5,961.6 L596.0,959.6 L597.5,957.5 L599.0,955.5 L600.5,953.4 L602.0,951.3 L603.5,949.2 L605.0,947.1 L606.5,944.9 L608.0,942.8 L609.5,940.6 L611.0,938.4 L612.5,936.1 L614.0,933.9 L615.5,931.6 L617.0,929.3 L618.5,927.0 L620.0,924.7 L621.5,922.4 L623.0,920.0 L624.5,917.6 L626.0,915.2 L627.5,912.8 L629.0,910.3 L630.5,907.9 L632.0,905.4 L633.5,902.9 L635.0,900.4 L636.5,897.8 L638.0,895.3 L639.5,892.7 L641.0,890.1 L642.5,887.5 L644.0,884.9 L645.5,882.2 L647.0,879.5 L648.5,876.8 L650.0,874.1 L651.5,871.4 L653.0,868.6 L654.5,865.9 L656.0,863.1 L657.5,860.3 L659.0,857.4 L660.5,854.6 L662.0,851.7 L663.5,848.8 L665.0,845.9 L666.5,843.0 L668.0,840.1 L669.5,837.1 L671.0,834.1 L672.5,831.1 L674.0,828.1 L675.5,825.0 L677.0,822.0 L678.5,818.9 L680.0,815.8 L681.5,812.7 L683.0,809.5 L684.5,806.4 L686.0,803.2 L687.5,800.0 L689.0,796.8 L690.5,793.6 L692.0,790.3 L693.5,787.0 L695.0,783.8 L696.5,780.4 L698.0,777.1 L699.5,773.8 L701.0,770.4 L702.5,767.1 L704.0,763.7 L705.5,760.3 L707.0,756.8 L708.5,753.4 L710.0,750.0 L711.5,746.5 L713.0,743.0 L714.5,739.5 L716.0,736.0 L717.5,732.5 L719.0,729.0 L720.5,725.4 L722.0,721.9 L723.5,718.3 L725.0,714.7 L726.5,711.1 L728.0,707.5 L729.5,703.9 L731.0,700.3 L732.5,696.7 L734.0,693.0 L735.5,689.4 L737.0,685.7 L738.5,682.1 L740.0,678.4 L741.5,674.7 L743.0,671.0 L744.5,667.3 L746.0,663.6 L747.5,659.9 L749.0,656.2 L750.5,652.5 L752.0,648.8 L753.5,645.0 L755.0,641.3 L756.5,637.6 L758.0,633.8 L759.5,630.1 L761.0,626.3 L762.5,622.6 L764.0,618.8 L765.5,615.1 L767.0,611.3 L768.5,607.5 L770.0,603.8 L771.5,600.0 L773.0,596.2 L774.5,592.5 L776.0,588.7 L777.5,584.9 L779.0,581.2 L780.5,577.4 L782.0,573.6 L783.5,569.9 L785.0,566.1 L786.5,562.4 L788.0,558.6 L789.5,554.9 L791.0,551.1 L792.5,547.4 L794.0,543.6 L795.5,539.9 L797.0,536.2 L798.5,532.5 L800.0,528.7 L801.5,525.0 L803.0,521.3 L804.5,517.6 L806.0,513.9 L807.5,510.3 L809.0,506.6 L810.5,502.9 L812.0,499.3 L813.5,495.6 L815.0,492.0 L816.5,488.4 L818.0,484.8 L819.5,481.1 L821.0,477.6 L822.5,474.0 L824.0,470.4 L825.5,466.8 L827.0,463.3 L828.5,459.8 L830.0,456.2 L831.5,452.7 L833.0,449.3 L834.5,445.8 L836.0,442.3 L837.5,438.9 L839.0,435.4 L840.5,432.0 L842.0,428.6 L843.5,425.2 L845.0,421.9 L846.5,418.5 L848.0,415.2 L849.5,411.9 L851.0,408.6 L852.5,405.3 L854.0,402.1 L855.5,398.9 L857.0,395.6 L858.5,392.4 L860.0,389.3 L861.5,386.1 L863.0,383.0 L864.5,379.9 L866.0,376.8 L867.5,373.7 L869.0,370.7 L870.5,367.7 L872.0,364.7 L873.5,361.7 L875.0,358.8 L876.5,355.9 L878.0,353.0 L879.5,350.1 L881.0,347.3 L882.5,344.5 L884.0,341.7 L885.5,338.9 L887.0,336.2 L888.5,333.5 L890.0,330.8 L891.5,328.2 L893.0,325.6 L894.5,323.0 L896.0,320.4 L897.5,317.9 L899.0,315.5 L900.5,313.0 L902.0,310.6 L903.5,308.2 L905.0,305.9 L906.5,303.6 L908.0,301.3 L909.5,299.1 L911.0,296.9 L912.5,294.7 L914.0,292.6 L915.5,290.6 L917.0,288.5 L918.5,286.5 L920.0,284.6 L921.5,282.7 L923.0,280.8 L924.5,279.0 L926.0,277.2 L927.5,275.5 L929.0,273.8 L930.5,272.2 L932.0,270.6 L933.5,269.0 L935.0,267.5 L936.5,266.1 L938.0,264.7 L939.5,263.3 L941.0,262.0 L942.5,260.8 L944.0,259.6 L945.5,258.4 L947.0,257.4 L948.5,256.3 L950.0,255.3 L951.5,254.4 L953.0,253.5 L954.5,252.7 L956.0,251.9 L957.5,251.2 L959.0,250.6 L960.5,250.0 L962.0,249.4 L963.5,248.9 L965.0,248.5 L966.5,248.1 L968.0,247.8 L969.5,247.5 L971.0,247.2 L972.5,247.1 L974.0,247.0 L975.5,246.9 L977.0,246.9 L978.5,246.9 L980.0,247.0 L981.5,247.2 L983.0,247.4 L984.5,247.7 L986.0,248.0 L987.5,248.4 L989.0,248.8 L990.5,249.3 L992.0,249.8 L993.5,250.4 L995.0,251.1 L996.5,251.8 L998.0,252.5 L999.5,253.3 L1001.0,254.2 L1002.5,255.1 L1004.0,256.0 L1005.5,257.1 L1007.0,258.1 L1008.5,259.2 L1010.0,260.4 L1011.5,261.6 L1013.0,262.9 L1014.5,264.2 L1016.0,265.5 L1017.5,266.9 L1019.0,268.4 L1020.5,269.9 L1022.0,271.4 L1023.5,273.0 L1025.0,274.6 L1026.5,276.3 L1028.0,278.0 L1029.5,279.8 L1031.0,281.6 L1032.5,283.4 L1034.0,285.3 L1035.5,287.2 L1037.0,289.2 L1038.5,291.2 L1040.0,293.3 L1041.5,295.4 L1043.0,297.5 L1044.5,299.7 L1046.0,301.9 L1047.5,304.1 L1049.0,306.4 L1050.5,308.7 L1052.0,311.1 L1053.5,313.4 L1055.0,315.9 L1056.5,318.3 L1058.0,320.8 L1059.5,323.3 L1061.0,325.9 L1062.5,328.5 L1064.0,331.1 L1065.5,333.8 L1067.0,336.5 L1068.5,339.2 L1070.0,341.9 L1071.5,344.7 L1073.0,347.5 L1074.5,350.4 L1076.0,353.2 L1077.5,356.1 L1079.0,359.0 L1080.5,362.0 L1082.0,365.0 L1083.5,368.0 L1085.0,371.0 L1086.5,374.1 L1088.0,377.1 L1089.5,380.2 L1091.0,383.4 L1092.5,386.5 L1094.0,389.7 L1095.5,392.9 L1097.0,396.1 L1098.5,399.3 L1100.0,402.6 L1101.5,405.9 L1103.0,409.2 L1104.5,412.5 L1106.0,415.8 L1107.5,419.2 L1109.0,422.6 L1110.5,426.0 L1112.0,429.4 L1113.5,432.8 L1115.0,436.3 L1116.5,439.7 L1118.0,443.2 L1119.5,446.7 L1121.0,450.2 L1122.5,453.7 L1124.0,457.2 L1125.5,460.8 L1127.0,464.3 L1128.5,467.9 L1130.0,471.5 L1131.5,475.1 L1133.0,478.7 L1134.5,482.3 L1136.0,485.9 L1137.5,489.5 L1139.0,493.2 L1140.5,496.8 L1142.0,500.5 L1143.5,504.1 L1145.0,507.8 L1146.5,511.5 L1148.0,515.2 L1149.5,518.9 L1151.0,522.5 L1152.5,526.2 L1154.0,529.9 L1155.5,533.6 L1157.0,537.4 L1158.5,541.1 L1160.0,544.8 L1161.5,548.5 L1163.0,552.2 L1164.5,555.9 L1166.0,559.6 L1167.5,563.3 L1169.0,567.1 L1170.5,570.8 L1172.0,574.5 L1173.5,578.2 L1175.0,581.9 L1176.5,585.6 L1178.0,589.3 L1179.5,593.0 L1181.0,596.7 L1182.5,600.4 L1184.0,604.0 L1185.5,607.7 L1187.0,611.4 L1188.5,615.0 L1190.0,618.7 L1191.5,622.4 L1193.0,626.0 L1194.5,629.6 L1196.0,633.3 L1197.5,636.9 L1199.0,640.5 L1200.5,644.1 L1202.0,647.7 L1203.5,651.3 L1205.0,654.9 L1206.5,658.5 L1208.0,662.0 L1209.5,665.6 L1211.0,669.2 L1212.5,672.7 L1214.0,676.2 L1215.5,679.8 L1217.0,683.3 L1218.5,686.8 L1220.0,690.3 L1221.5,693.8 L1223.0,697.3 L1224.5,700.7 L1226.0,704.2 L1227.5,707.6 L1229.0,711.1 L1230.5,714.5 L1232.0,717.9 L1233.5,721.3 L1235.0,724.7 L1236.5,728.1 L1238.0,731.5 L1239.5,734.9 L1241.0,738.2 L1242.5,741.5 L1244.0,744.9 L1245.5,748.2 L1247.0,751.5 L1248.5,754.8 L1250.0,758.1 L1251.5,761.3 L1253.0,764.6 L1254.5,767.8 L1256.0,771.0 L1257.5,774.3 L1259.0,777.5 L1260.5,780.6 L1262.0,783.8 L1263.5,787.0 L1265.0,790.1 L1266.5,793.3 L1268.0,796.4 L1269.5,799.5 L1271.0,802.6 L1272.5,805.6 L1274.0,808.7 L1275.5,811.7 L1277.0,814.7 L1278.5,817.8 L1280.0,820.8 L1281.5,823.7 L1283.0,826.7 L1284.5,829.6 L1286.0,832.6 L1287.5,835.5 L1289.0,838.4 L1290.5,841.3 L1292.0,844.1 L1293.5,847.0 L1295.0,849.8 L1296.5,852.6 L1298.0,855.4 L1299.5,858.2 L1301.0,860.9 L1302.5,863.7 L1304.0,866.4 L1305.5,869.1 L1307.0,871.8 L1308.5,874.4 L1310.0,877.1 L1311.5,879.7 L1313.0,882.3 L1314.5,884.9 L1316.0,887.5 L1317.5,890.0 L1319.0,892.5 L1320.5,895.0 L1322.0,897.5 L1323.5,900.0 L1325.0,902.4 L1326.5,904.9 L1328.0,907.3 L1329.5,909.7 L1331.0,912.0 L1332.5,914.4 L1334.0,916.7 L1335.5,919.0 L1337.0,921.3 L1338.5,923.6 L1340.0,925.8 L1341.5,928.0 L1343.0,930.2 L1344.5,932.4 L1346.0,934.6 L1347.5,936.8 L1349.0,938.9 L1350.5,941.0 L1352.0,943.1 L1353.5,945.2 L1355.0,947.2 L1356.5,949.3 L1358.0,951.3 L1359.5,953.3 L1361.0,955.3 L1362.5,957.2 L1364.0,959.2 L1365.5,961.1 L1367.0,963.0 L1368.5,964.9 L1370.0,966.8 L1371.5,968.7 L1373.0,970.5 L1374.5,972.4 L1376.0,974.2 L1377.5,976.0 L1379.0,977.8 L1380.5,979.5 L1382.0,981.3 L1383.5,983.0 L1385.0,984.7 L1386.5,986.4 L1388.0,988.1 L1389.5,989.8 L1391.0,991.4 L1392.5,993.1 L1394.0,994.7 L1395.5,996.3 L1397.0,997.9 L1398.5,999.5 L1400.0,1001.0 L1401.5,1002.6 L1403.0,1004.1 L1404.5,1005.6 L1406.0,1007.1 L1407.5,1008.6 L1409.0,1010.1 L1410.5,1011.6 L1412.0,1013.0 L1413.5,1014.5 L1415.0,1015.9 L1416.5,1017.3 L1418.0,1018.7 L1419.5,1020.1 L1421.0,1021.4 L1422.5,1022.8 L1424.0,1024.1 L1425.5,1025.5 L1427.0,1026.8 L1428.5,1028.1 L1430.0,1029.4 L1431.5,1030.7 L1433.0,1031.9 L1434.5,1033.2 L1436.0,1034.4 L1437.5,1035.7 L1439.0,1036.9 L1440.5,1038.1 L1442.0,1039.3 L1443.5,1040.5 L1445.0,1041.6 L1446.5,1042.8 L1448.0,1044.0 L1449.5,1045.1 L1451.0,1046.2 L1452.5,1047.4 L1454.0,1048.5 L1455.5,1049.6 L1457.0,1050.6 L1458.5,1051.7 L1460.0,1052.8 L1461.5,1053.9 L1463.0,1054.9 L1464.5,1055.9 L1466.0,1057.0 L1467.5,1058.0 L1469.0,1059.0 L1470.5,1060.0 L1472.0,1061.0 L1473.5,1062.0 L1475.0,1062.9 L1476.5,1063.9 L1478.0,1064.9 L1479.5,1065.8 L1481.0,1066.7 L1482.5,1067.7 L1484.0,1068.6 L1485.5,1069.5 L1487.0,1070.4 L1488.5,1071.3 L1490.0,1072.2 L1491.5,1073.1 L1493.0,1073.9 L1494.5,1074.8 L1496.0,1075.6 L1497.5,1076.5 L1499.0,1077.3 L1500.5,1078.1 L1502.0,1078.9 L1503.5,1079.7 L1505.0,1080.5 L1506.5,1081.3 L1508.0,1082.1 L1509.5,1082.9 L1511.0,1083.6 L1512.5,1084.4 L1514.0,1085.1 L1515.5,1085.9 L1517.0,1086.6 L1518.5,1087.3 L1520.0,1088.0 L1521.5,1088.7 L1523.0,1089.4 L1524.5,1090.1 L1526.0,1090.8 L1527.5,1091.5 L1529.0,1092.2 L1530.5,1092.8 L1532.0,1093.5 L1533.5,1094.1 L1535.0,1094.7 L1536.5,1095.4 L1538.0,1096.0 L1539.5,1096.6 L1541.0,1097.2 L1542.5,1097.8 L1544.0,1098.4 L1545.5,1099.0 L1547.0,1099.5 L1548.5,1100.1 L1550.0,1100.7 L1551.5,1101.2 L1553.0,1101.8 L1554.5,1102.3 L1556.0,1102.8 L1557.5,1103.3 L1559.0,1103.8 L1560.5,1104.4 L1562.0,1104.9 L1563.5,1105.3 L1565.0,1105.8 L1566.5,1106.3 L1568.0,1106.8 L1569.5,1107.2 L1571.0,1107.7 L1572.5,1108.1 L1574.0,1108.6 L1575.5,1109.0 L1577.0,1109.5 L1578.5,1109.9 L1580.0,1110.3 L1581.5,1110.7 L1583.0,1111.1 L1584.5,1111.5 L1586.0,1111.9 L1587.5,1112.3 L1589.0,1112.6 L1590.5,1113.0 L1592.0,1113.4 L1593.5,1113.7 L1595.0,1114.1 L1596.5,1114.4 L1598.0,1114.7 L1599.5,1115.1 L1601.0,1115.4 L1602.5,1115.7 L1604.0,1116.0 L1605.5,1116.3 L1607.0,1116.6 L1608.5,1116.9 L1610.0,1117.2 L1611.5,1117.5 L1613.0,1117.7 L1614.5,1118.0 L1616.0,1118.3 L1617.5,1118.5 L1619.0,1118.8 L1620.5,1119.0 L1622.0,1119.3 L1623.5,1119.5 L1625.0,1119.7 L1626.5,1119.9 L1628.0,1120.1 L1629.5,1120.3 L1631.0,1120.6 L1632.5,1120.7 L1634.0,1120.9 L1635.5,1121.1 L1637.0,1121.3 L1638.5,1121.5 L1640.0,1121.6 L1641.5,1121.8 L1643.0,1122.0 L1644.5,1122.1 L1646.0,1122.3 L1647.5,1122.4 L1649.0,1122.5 L1650.5,1122.7 L1652.0,1122.8 L1653.5,1122.9 L1655.0,1123.0 L1656.5,1123.1 L1658.0,1123.2 L1659.5,1123.3 L1661.0,1123.4 L1662.5,1123.5 L1664.0,1123.6 L1803.4,1123.6" stroke="#00ffff" stroke-width="5.8"/>
</g>
<g id="ticklabels">
<text transform="translate(24.1 1228.9) scale(0.955 1)" text-anchor="middle">0</text>
<text transform="translate(347.5 1228.9) scale(0.955 1)" text-anchor="middle">200</text>
<text transform="translate(671.0 1228.9) scale(0.955 1)" text-anchor="middle">400</text>
<text transform="translate(994.5 1228.9) scale(0.955 1)" text-anchor="middle">600</text>
<text transform="translate(1317.9 1228.9) scale(0.955 1)" text-anchor="middle">800</text>
<text transform="translate(1641.4 1228.9) scale(0.955 1)" text-anchor="middle">1000</text>
<text transform="translate(1964.8 1228.9) scale(0.955 1)" text-anchor="middle">1200</text>
</g>
<text id="xtitle" transform="translate(993.6 1357.2) scale(0.955 1)" text-anchor="middle">Size (nm)</text>
<g id="legend">
<line x1="1309.8" y1="38.4" x2="1477.5" y2="38.4" stroke="#000000" stroke-width="5.1" stroke-linecap="round"/>
<text transform="translate(1497.6 63.5) scale(0.955 1)">1:1:4</text>
<line x1="1309.8" y1="131.1" x2="1477.6" y2="131.1" stroke="#ff0000" stroke-width="4.9" stroke-linecap="round"/>
<text transform="translate(1497.6 156.2) scale(0.955 1)">3:1:4</text>
<line x1="1310.2" y1="223.8" x2="1477.1" y2="223.8" stroke="#00ff00" stroke-width="5.9" stroke-linecap="round"/>
<text transform="translate(1497.6 248.9) scale(0.955 1)">5:1:4</text>
<line x1="1310.0" y1="316.5" x2="1477.4" y2="316.5" stroke="#0000ff" stroke-width="5.4" stroke-linecap="round"/>
<text transform="translate(1497.6 341.6) scale(0.955 1)">7:1:4</text>
<line x1="1310.4" y1="409.2" x2="1477.0" y2="409.2" stroke="#00ffff" stroke-width="6.2" stroke-linecap="round"/>
<text transform="translate(1497.6 434.3) scale(0.955 1)">9:1:4</text>
</g>
</svg>
</body>
</html>
